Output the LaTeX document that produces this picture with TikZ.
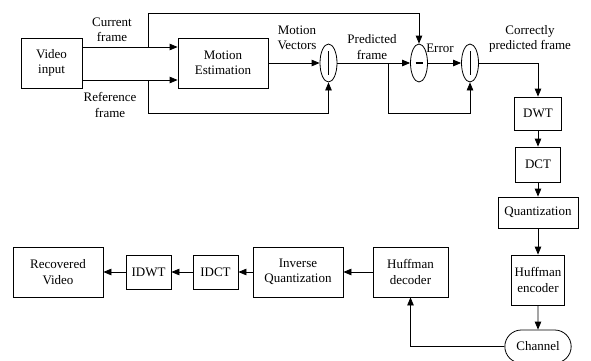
\documentclass[tikz,border=0pt]{standalone}
\usepackage{fontspec}
\setmainfont{Liberation Serif}
\usetikzlibrary{arrows.meta,shapes.geometric,shapes.misc}

\begin{document}
\begin{tikzpicture}[x=1pt,y=-1pt,
	font=\fontsize{13}{15.5}\selectfont,
	box/.style={draw,line width=0.8pt,align=center,inner sep=1pt},
	arr/.style={line width=0.8pt,-{Triangle[length=8pt,width=6.5pt]}},
	sumnode/.style={ellipse,draw,line width=0.8pt,minimum width=17pt,minimum height=38pt,inner sep=0pt},
	lbl/.style={align=center,inner sep=0pt}]
	\useasboundingbox (0,0) rectangle (591,360);

	\node[box,minimum width=61pt,minimum height=50pt] (vin) at (51.5,63) {Video\\input};
	\node[box,minimum width=90pt,minimum height=50pt] (me) at (223,63) {Motion\\Estimation};
	\node[sumnode,path picture={\draw[line width=0.8pt] (path picture bounding box.center) ++(0,-12) -- ++(0,24);}] (add1) at (328.5,63) {};
	\node[sumnode,path picture={\draw[line width=2.4pt] (path picture bounding box.center) ++(-3.5,0) -- ++(7,0);}] (sub) at (419,63) {};
	\node[sumnode,path picture={\draw[line width=0.8pt] (path picture bounding box.center) ++(0,-12) -- ++(0,24);}] (add2) at (470,63) {};

	\node[lbl] (lcur) at (112,30) {Current\\frame};
	\node[lbl] (lref) at (110,105) {Reference\\frame};
	\node[lbl] (lmv) at (297,38) {Motion\\Vectors};
	\node[lbl] (lpf) at (372,47) {Predicted\\frame};
	\node[lbl] (lerr) at (440,48) {Error};
	\node[lbl] (lcpf) at (530,39) {Correctly\\predicted frame};

	\node[box,minimum width=47pt,minimum height=33pt] (dwt) at (538,113.5) {DWT};
	\node[box,minimum width=45pt,minimum height=35pt] (dct) at (538,164.5) {DCT};
	\node[box,minimum width=80pt,minimum height=31pt] (quant) at (538,212.5) {Quantization};
	\node[box,minimum width=53pt,minimum height=50pt] (henc) at (538,280) {Huffman\\encoder};
	\node[rounded rectangle,draw,line width=0.8pt,minimum width=73pt,minimum height=33pt] (chan) at (538,346.5) {Channel};

	\node[box,minimum width=75pt,minimum height=50pt] (hdec) at (410.5,272) {Huffman\\decoder};
	\node[box,minimum width=90pt,minimum height=50pt] (iquant) at (298,272) {Inverse\\Quantization};
	\node[box,minimum width=45pt,minimum height=34pt] (idct) at (215.5,272) {IDCT};
	\node[box,minimum width=45pt,minimum height=34pt] (idwt) at (148.5,272) {IDWT};
	\node[box,minimum width=90pt,minimum height=50pt] (rvid) at (58,272) {Recovered\\Video};

	\coordinate (cf) at (148,47);
	\coordinate (rf) at (148,80);
	\coordinate (pf) at (388,63);

	\draw[arr] (vin.east |- cf) -- (me.west |- cf);
	\draw[arr] (vin.east |- rf) -- (me.west |- rf);
	\draw[arr] (cf) -- ++(0,-34) -| (sub.north);
	\draw[arr] (rf) -- ++(0,33) -| (add1.south);
	\draw[arr] (me) -- (add1);
	\draw[arr] (add1) -- (sub);
	\draw[arr] (sub) -- (add2);
	\draw[arr] (pf) -- ++(0,50) -| (add2.south);
	\draw[arr] (add2.east) -| (dwt.north);

	\draw[arr] (dwt) -- (dct);
	\draw[arr] (dct) -- (quant);
	\draw[arr] (quant) -- (henc);
	\draw[arr] (henc) -- (chan);
	\draw[arr] (chan.west) -| (hdec.south);

	\draw[arr] (hdec) -- (iquant);
	\draw[arr] (iquant) -- (idct);
	\draw[arr] (idct) -- (idwt);
	\draw[arr] (idwt) -- (rvid);
\end{tikzpicture}
\end{document}
